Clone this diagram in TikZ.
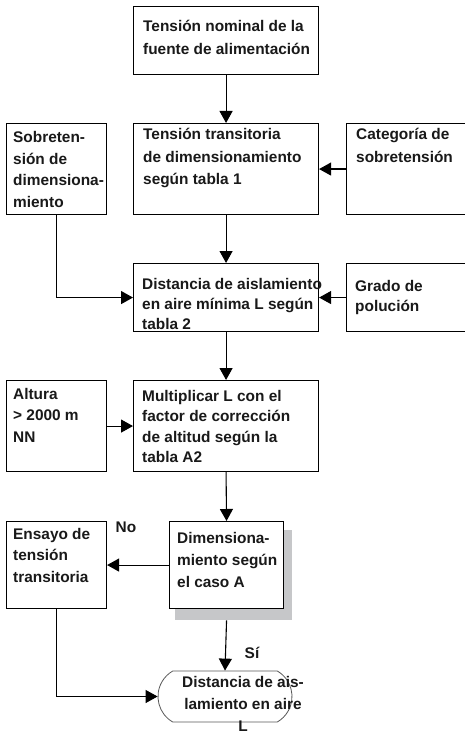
\documentclass[tikz,border=0pt]{standalone}
\usepackage{fontspec}
\setmainfont{Liberation Sans}
\usetikzlibrary{arrows.meta,shapes.misc}
\definecolor{sombra}{HTML}{C6C7C9}
\tikzset{
  caja/.style={draw, line width=1.1pt, anchor=north west, inner sep=0pt, fill=white},
  txt/.style={anchor=base west, inner sep=0pt, align=left, text=black!90, font=\bfseries\fontsize{15.4}{#1}\selectfont},
  txt/.default=21.5,
  flecha/.style={line width=1.1pt, -{Triangle[length=12pt,width=13pt]}}
}

\begin{document}
\begin{tikzpicture}[x=1pt,y=-1pt]
            \useasboundingbox (0,0) rectangle (465,735);
            \node[caja, minimum width=185, minimum height=68] (nom) at (133,6) {};
            \node[caja, minimum width=185, minimum height=91] (tra) at (133,123) {}; \node[caja, minimum width=100, minimum height=91] (sob) at (6,123) {}; \node[caja, minimum width=121, minimum height=91] (cat) at (346,123) {};
            \node[caja, minimum width=185, minimum height=68] (dis) at (133,263) {}; \node[caja, minimum width=121, minimum height=68] (gra) at (346,263) {};
            \node[caja, minimum width=185, minimum height=91] (mul) at (133,380) {}; \node[caja, minimum width=100, minimum height=91] (alt) at (6,380) {};
            \node[fill=sombra, anchor=north west, inner sep=0pt, minimum width=117, minimum height=90] (shd) at (175,530) {};
            \node[caja, minimum width=114, minimum height=87] (dim) at (169,521) {}; \node[caja, minimum width=100, minimum height=87] (ens) at (6,521) {};
            \node[draw=black!65, line width=0.8pt, rounded rectangle, rounded rectangle arc length=120, minimum width=134, minimum height=51, inner sep=0pt] (ter) at (225,696.5) {};

            \draw[flecha] (nom.south) -- (tra.north); \draw[flecha] (cat.west) -- (tra.east); \draw[flecha] (tra.south) -- (dis.north); \draw[flecha] (sob.south) |- (dis.west); \draw[flecha] (gra.west) -- (dis.east);
            \draw[flecha] (dis.south) -- (mul.north); \draw[flecha] (alt.east) -- (mul.west); \draw[flecha] (mul.south) -- (dim.north); \draw[flecha] (dim.west) -- (ens.east);
            \draw[flecha] (dim.south |- shd.south) -- (ter.north); \draw[flecha] (ens.south) |- (ter.west);

            % base = baseline of the last line
            \node[txt=23] (nomT) at (143,55) {Tensión nominal de la\\fuente de alimentación};
            \node[txt=22.5] (traT) at (143,185) {Tensión transitoria\\de dimensionamiento\\según tabla 1};
            \node[txt] (sobT) at (13,207.5) {Sobreten-\\sión de\\dimensiona-\\miento};
            \node[txt=23] (catT) at (356,163) {Categoría de\\sobretensión};
            \node[txt=20] (disT) at (142,329) {Distancia de aislamiento\\en aire mínima L según\\tabla 2};
            \node[txt=20] (graT) at (355,311) {Grado de\\polución};
            \node[txt=20.5] (mulT) at (142,462.5) {Multiplicar L con el\\factor de corrección\\de altitud según la\\tabla A2};
            \node[txt] (altT) at (13,442) {Altura\\> 2000 m\\NN};
            \node[txt=22] (dimT) at (177,587) {Dimensiona-\\miento según\\el caso A};
            \node[txt] (ensT) at (13,582) {Ensayo de\\tensión\\transitoria};
            \node[txt=22, anchor=base, align=center] (terT) at (243,731) {Distancia de ais-\\lamiento en aire\\L};
            \node[txt, anchor=base] (no) at (126,532) {No}; \node[txt, anchor=base] (si) at (252,658) {Sí};
\end{tikzpicture}
\end{document}
